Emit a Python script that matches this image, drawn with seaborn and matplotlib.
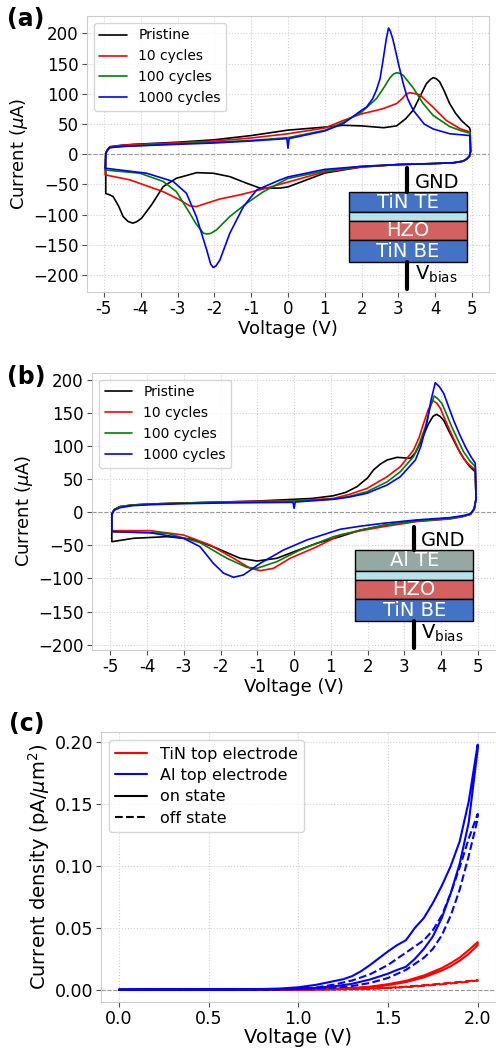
import matplotlib
matplotlib.use("Agg")
import matplotlib.pyplot as plt
import seaborn as sns
from matplotlib.patches import Rectangle
from matplotlib.lines import Line2D

# ---- panel (a): TiN top electrode, CV loops ----
a_pristine_v = [-4.95, -4.9, -4.84, -4.5, -4.2, -3.5, -3.0, -2.0, -1.0, 0.0, 1.0, 1.5, 2.0, 2.6, 2.95,
                3.2, 3.4, 3.58, 3.76, 3.87, 3.95, 4.03, 4.12, 4.25, 4.39, 4.55, 4.71, 4.85, 4.93, 4.95,
                4.96, 4.93, 4.85, 4.75, 4.5, 3.9, 3.0, 2.0, 1.0, 0.0, -0.22, -0.76, -1.12, -1.58,
                -2.03, -2.48, -3.03, -3.39, -3.71, -3.98, -4.12, -4.22, -4.35, -4.48, -4.6, -4.75,
                -4.85, -4.95, -4.95]
a_pristine_i = [2, 8, 12.6, 15, 16.5, 18.5, 20, 24, 31, 40, 45, 48, 47, 44, 47,
                59, 73, 95, 117, 124, 127, 125, 120, 104, 84, 68, 56, 48, 44, 40,
                5, -3, -8, -11.5, -14, -15.5, -17, -21, -31, -54, -56, -56, -48, -37,
                -31.4, -30.4, -39.7, -53.5, -84, -106, -112, -114, -111, -103, -86, -70,
                -67, -65, 2]

a_c10_v = [-4.95, -4.9, -4.84, -4.5, -4.2, -3.0, -2.0, -1.0, 0.0, 1.0, 1.5, 2.0, 2.4, 2.58, 2.95,
           3.1, 3.2, 3.3, 3.4, 3.58, 3.76, 3.94, 4.1, 4.3, 4.67, 4.94, 4.96, 4.93, 4.85, 4.75,
           4.5, 3.9, 3.0, 2.0, 1.0, 0.0, -0.67, -1.3, -1.85, -2.21, -2.49, -2.67, -2.94, -3.39,
           -4.29, -4.97, -4.95]
a_c10_i = [2, 8, 12, 15, 16, 19, 22, 27, 34, 43.5, 56, 67, 72.7, 75.5, 84,
           92, 99, 102, 101, 98.6, 88, 78, 68, 56, 42.4, 37, 5, -3, -8, -11.5,
           -14, -15.5, -17, -21, -29, -46, -57.4, -67, -74, -81, -86.6, -85.5, -75.5, -62,
           -42.5, -34, 2]

a_c100_v = [-4.95, -4.9, -4.84, -4.5, -3.0, -2.0, -1.0, 0.0, 1.0, 1.5, 2.0, 2.4, 2.6, 2.77, 2.87,
            2.95, 3.04, 3.13, 3.4, 3.67, 3.94, 4.39, 4.7, 4.94, 4.96, 4.93, 4.85, 4.75, 4.5, 3.9,
            3.0, 2.0, 1.0, 0.0, -0.67, -1.12, -1.58, -1.94, -2.1, -2.2, -2.3, -2.5, -2.67, -3.03,
            -3.39, -4.02, -4.97, -4.95]
a_c100_i = [2, 7, 11, 13, 17.6, 20, 23, 27.5, 39.7, 53, 70, 92, 110, 126.7, 133,
            135, 134, 130.6, 110, 84, 64.5, 46, 39, 35, 5, -3, -8, -11.5, -14, -15.5,
            -17, -20, -27.5, -40, -62, -81, -103, -125, -131, -132, -130.6, -115, -97.5, -62,
            -45, -31.4, -26, 2]

a_c1000_v = [-4.95, -4.9, -4.84, -4.5, -3.0, -2.0, -1.0, -0.03, 0.0, 0.03, 1.0, 1.5, 2.0, 2.13, 2.3,
             2.4, 2.5, 2.58, 2.67, 2.73, 2.78, 2.85, 2.9, 3.0, 3.13, 3.25, 3.4, 3.7, 3.94, 4.39,
             4.94, 4.96, 4.93, 4.85, 4.75, 4.5, 3.9, 3.0, 2.0, 1.0, 0.0, -0.22, -0.85, -1.21,
             -1.58, -1.85, -1.96, -2.03, -2.1, -2.21, -2.49, -2.76, -3.12, -3.84, -4.97, -4.95]
a_c1000_i = [2, 7, 11, 13, 16.5, 18.7, 22, 26, 10, 26, 38.6, 50.7, 73, 78, 92,
             106, 125, 155, 191, 209, 204, 190, 177, 150, 117, 92, 73, 50, 42, 34,
             31, 5, -3, -8, -11.5, -14, -15.5, -17, -20, -25, -37.5, -42.5, -59, -86.6,
             -130.6, -175, -185, -187.4, -182, -158, -103, -64.5, -45, -31.4, -23, 2]

# ---- panel (b): Al top electrode, CV loops ----
b_pristine_v = [-4.96, -4.9, -4.74, -4.4, -3.9, -3.0, -2.0, -1.0, 0.0, 0.5, 1.07, 1.4, 1.71, 2.0, 2.16,
                2.35, 2.53, 2.8, 3.16, 3.3, 3.43, 3.55, 3.66, 3.78, 3.87, 3.97, 4.07, 4.2, 4.34, 4.47,
                4.61, 4.78, 4.93, 4.95, 4.9, 4.8, 4.6, 4.25, 3.34, 2.43, 1.8, 1.25, 0.62, 0.0, -0.47,
                -1.01, -1.47, -2.1, -2.74, -3.46, -4.37, -4.96, -4.96]
b_pristine_i = [-3, 4, 8.5, 11, 12.5, 14, 15.5, 17, 19.6, 21, 25, 30, 38.7, 52, 64,
                73, 79, 83, 81.6, 90, 104, 120, 134, 145, 148, 145, 139, 124, 109, 95,
                81.6, 69, 61, 20, 5, -3, -6, -9, -12.7, -20, -27, -36.8, -46.8, -59.5, -69.5,
                -73.6, -69.5, -54.4, -40.8, -36.8, -39.3, -44.4, -3]

b_c10_v = [-4.96, -4.9, -4.74, -4.4, -3.9, -3.0, -2.0, -1.0, 0.0, 1.07, 1.5, 1.98, 2.53, 2.89, 3.25,
           3.4, 3.52, 3.65, 3.78, 3.88, 3.98, 4.1, 4.25, 4.4, 4.52, 4.7, 4.93, 4.95, 4.9, 4.8,
           4.6, 4.25, 3.34, 2.43, 1.8, 1.25, 0.62, -0.11, -0.56, -0.92, -1.2, -1.65, -2.29, -3.01,
           -3.92, -4.96, -4.96]
b_c10_i = [-3, 4, 8.5, 11, 12.5, 14, 15.5, 16.5, 17.5, 21, 27, 36, 53.8, 69, 94,
           113, 134, 155, 168.6, 165, 157, 141, 122, 104, 89, 75, 64, 20, 5, -3,
           -6.5, -10, -14, -21.7, -28, -34.3, -52, -69.5, -84.6, -88.2, -84.6, -69.5, -49.4, -34.3,
           -27.8, -27.8, -3]

b_c100_v = [-4.96, -4.9, -4.74, -4.4, -3.9, -3.0, -2.0, -1.0, 0.0, 1.07, 1.5, 1.98, 2.53, 2.89, 3.25,
            3.4, 3.57, 3.7, 3.81, 3.9, 4.02, 4.15, 4.29, 4.45, 4.61, 4.78, 4.93, 4.95, 4.9, 4.8,
            4.6, 4.25, 3.34, 2.43, 1.8, 1.07, 0.16, -0.47, -1.01, -1.29, -1.83, -2.56, -3.46,
            -4.96, -4.96]
b_c100_i = [-3, 4, 8.5, 11, 12.5, 14, 15, 16, 17, 20, 24, 31, 46, 61.3, 84,
            103, 129, 158, 175.7, 172, 164.6, 148, 129, 110, 91.5, 78, 69, 20, 5, -3,
            -6, -9.5, -13.5, -19.5, -27, -36.8, -57, -74.6, -84.6, -83.1, -69.5, -45.9, -31.7,
            -29.3, -3]

b_c1000_v = [-4.96, -4.9, -4.74, -4.4, -3.9, -3.0, -2.0, -1.0, -0.03, 0.0, 0.03, 1.07, 1.5, 1.98, 2.53,
             2.89, 3.3, 3.45, 3.61, 3.72, 3.84, 3.95, 4.07, 4.2, 4.34, 4.5, 4.66, 4.8, 4.93, 4.95,
             4.9, 4.8, 4.6, 4.25, 3.34, 2.43, 1.8, 1.25, 0.35, -0.29, -0.92, -1.38, -1.65, -1.92,
             -2.2, -2.56, -3.01, -3.92, -4.96, -4.96]
b_c1000_i = [-3, 3, 7, 10, 11.5, 13, 14, 14.6, 15, 6, 15.5, 19.6, 23, 28.7, 41.2,
             53.8, 79, 100, 134, 168, 195.8, 190, 179.8, 160, 139, 118, 99, 85, 74, 20,
             5, -2, -5, -8, -11.5, -16.6, -21, -25.7, -41.8, -57, -77, -94.7, -98.2, -92,
             -77, -52, -39.3, -30.8, -29.3, -3]

cycle_labels = ["Pristine", "10 cycles", "100 cycles", "1000 cycles"]
cycle_colors = ["black", "red", "green", "blue"]

# ---- panel (c): leakage current density ----
c_tin_on_v = [0.0, 0.4, 0.8, 1.0, 1.2, 1.3, 1.4, 1.5, 1.6, 1.7, 1.8, 1.85, 1.9, 1.95, 2.0,
              2.0, 1.95, 1.9, 1.85, 1.8, 1.7, 1.6, 1.5, 1.4, 1.3, 1.2, 1.0, 0.8, 0.4, 0.0]
c_tin_on_j = [0.0, 0.0, 0.0001, 0.0002, 0.0006, 0.0011, 0.0019, 0.0037, 0.0062, 0.010, 0.0155, 0.019, 0.0235, 0.029, 0.036,
              0.0385, 0.032, 0.026, 0.0215, 0.0175, 0.0115, 0.0072, 0.0045, 0.0025, 0.0014, 0.0008, 0.0003, 0.0001, 0.0, 0.0]
c_tin_off_v = [0.0, 0.4, 0.8, 1.0, 1.2, 1.4, 1.5, 1.6, 1.7, 1.8, 1.9, 2.0,
               2.0, 1.9, 1.8, 1.7, 1.6, 1.5, 1.4, 1.2, 1.0, 0.8, 0.4, 0.0]
c_tin_off_j = [0.0, 0.0, 0.0, 0.0001, 0.0003, 0.0008, 0.0014, 0.0022, 0.0032, 0.0044, 0.0058, 0.0074,
               0.0078, 0.0063, 0.005, 0.0036, 0.0025, 0.0016, 0.001, 0.0004, 0.0001, 0.0, 0.0, 0.0]
c_al_on_v = [0.0, 0.1, 0.2, 0.3, 0.4, 0.5, 0.6, 0.7, 0.8, 0.9, 1.0, 1.1, 1.2, 1.3, 1.4, 1.5, 1.55,
             1.6, 1.65, 1.7, 1.75, 1.8, 1.85, 1.9, 1.95, 2.0,
             2.0, 1.95, 1.9, 1.85, 1.8, 1.75, 1.7, 1.65, 1.6, 1.55, 1.5, 1.45, 1.4, 1.35, 1.3,
             1.25, 1.2, 1.15, 1.1, 1.0, 0.9, 0.8, 0.6, 0.4, 0.2, 0.0]
c_al_on_j = [0.0, 0.0002, 0.0001, 0.0002, 0.0001, 0.0002, 0.0001, 0.0002, 0.0003, 0.0004, 0.0007, 0.0015, 0.0028, 0.0048, 0.0083, 0.013, 0.016,
             0.0185, 0.025, 0.033, 0.043, 0.058, 0.078, 0.102, 0.135, 0.194,
             0.198, 0.152, 0.120, 0.100, 0.084, 0.070, 0.058, 0.050, 0.040, 0.036, 0.031, 0.0255, 0.020, 0.015, 0.011,
             0.0085, 0.007, 0.0055, 0.004, 0.002, 0.001, 0.0006, 0.0004, 0.0003, 0.0003, 0.0]
c_al_off_v = [0.0, 0.4, 0.8, 1.0, 1.2, 1.3, 1.4, 1.5, 1.6, 1.7, 1.75, 1.8, 1.85, 1.9, 1.95, 2.0,
              2.0, 1.95, 1.9, 1.85, 1.8, 1.75, 1.7, 1.6, 1.5, 1.4, 1.3, 1.2, 1.1, 1.0, 0.8, 0.4, 0.0]
c_al_off_j = [0.0, 0.0001, 0.0002, 0.0005, 0.0016, 0.003, 0.0055, 0.0095, 0.016, 0.0258, 0.033, 0.044, 0.060, 0.081, 0.108, 0.138,
              0.142, 0.122, 0.099, 0.078, 0.060, 0.048, 0.040, 0.030, 0.020, 0.0125, 0.0075, 0.0042, 0.0018, 0.0008, 0.0002, 0.0001, 0.0]

sns.set_style("whitegrid", {"grid.linestyle": ":", "grid.color": "0.82",
                            "axes.edgecolor": "0.8", "xtick.bottom": True, "ytick.left": True})
plt.rcParams["font.family"] = ["DejaVu Sans"]
plt.rcParams["text.color"] = "black"
plt.rcParams["axes.labelcolor"] = "black"
plt.rcParams["xtick.color"] = "black"
plt.rcParams["ytick.color"] = "black"

fig = plt.figure(figsize=(4.96, 10.5), dpi=100)
ax_a = fig.add_axes([0.1754, 0.7219, 0.8105, 0.2629])
ax_b = fig.add_axes([0.1855, 0.381, 0.8135, 0.2641])
ax_c = fig.add_axes([0.2036, 0.0457, 0.7956, 0.2569])


def draw_stack(ax, top_label, top_color, ys):
    # small device sketch in the lower right corner
    x0, x1, xc = 0.652, 0.945, 0.797
    cols = [top_color, "#b8e2ea", "#d46060", "#4472c4"]
    labs = [top_label, "", "HZO", "TiN BE"]
    for k in range(4):
        ax.add_patch(Rectangle((x0, ys[k + 2]), x1 - x0, ys[k + 1] - ys[k + 2], transform=ax.transAxes,
                               facecolor=cols[k], edgecolor="black", lw=1, zorder=6))
        if labs[k]:
            ax.text((x0 + x1) / 2, (ys[k + 1] + ys[k + 2]) / 2, labs[k], transform=ax.transAxes,
                    ha="center", va="center", color="white", fontsize=14, zorder=7)
    ax.plot([xc, xc], [ys[1], ys[0]], transform=ax.transAxes, color="black", lw=3, zorder=6)
    ax.plot([xc, xc], [ys[6], ys[5]], transform=ax.transAxes, color="black", lw=3, zorder=6)
    ax.text(0.816, (ys[0] + ys[1]) / 2 - 0.01, "GND", transform=ax.transAxes, fontsize=14,
            va="center", zorder=7)
    ax.text(0.816, ys[6] + 0.033, r"V$_{\mathrm{bias}}$", transform=ax.transAxes, fontsize=14,
            va="baseline", zorder=7)


def cv_panel(ax, curves, ylim, xlim):
    ax.axhline(0, color="0.6", ls="--", lw=0.8, zorder=1)
    for (v, i), lab, col in zip(curves, cycle_labels, cycle_colors):
        sns.lineplot(x=v, y=i, sort=False, estimator=None, color=col, lw=1.2, ax=ax, label=lab)
    ax.set_xlim(*xlim)
    ax.set_ylim(*ylim)
    ax.set_xticks(range(-5, 6))
    ax.set_xticklabels([str(t) for t in range(-5, 6)])
    ax.set_yticks(range(-200, 201, 50))
    ax.tick_params(labelsize=12, length=3.5, width=0.8, color="0.3", pad=2.5)
    ax.set_xlabel("Voltage (V)", fontsize=13, labelpad=1)
    ax.set_ylabel(r"Current ($\mu$A)", fontsize=13, labelpad=2)
    ax.legend(loc="upper left", fontsize=10, framealpha=0.8)


cv_panel(ax_a, [(a_pristine_v, a_pristine_i), (a_c10_v, a_c10_i), (a_c100_v, a_c100_i),
                (a_c1000_v, a_c1000_i)], (-228, 229), (-5.46, 5.46))
draw_stack(ax_a, "TiN TE", "#4472c4", [0.449, 0.362, 0.290, 0.257, 0.188, 0.109, 0.011])

cv_panel(ax_b, [(b_pristine_v, b_pristine_i), (b_c10_v, b_c10_i), (b_c100_v, b_c100_i),
                (b_c1000_v, b_c1000_i)], (-208, 211), (-5.5, 5.48))
draw_stack(ax_b, "Al TE", "#95a8a2", [0.445, 0.361, 0.286, 0.252, 0.183, 0.105, 0.006])

# panel (c)
ax_c.axhline(0, color="0.6", ls="--", lw=0.8, zorder=1)
sns.lineplot(x=c_tin_on_v, y=c_tin_on_j, sort=False, estimator=None, color="red", lw=1.5, ax=ax_c)
sns.lineplot(x=c_tin_off_v, y=c_tin_off_j, sort=False, estimator=None, color="red", lw=1.5,
             linestyle="--", ax=ax_c)
sns.lineplot(x=c_al_on_v, y=c_al_on_j, sort=False, estimator=None, color="blue", lw=1.5, ax=ax_c)
sns.lineplot(x=c_al_off_v, y=c_al_off_j, sort=False, estimator=None, color="blue", lw=1.5,
             linestyle="--", ax=ax_c)
ax_c.set_xlim(-0.1, 2.1)
ax_c.set_ylim(-0.0099, 0.208)
ax_c.set_xticks([0.0, 0.5, 1.0, 1.5, 2.0])
ax_c.set_yticks([0.0, 0.05, 0.10, 0.15, 0.20])
ax_c.set_yticklabels(["0.00", "0.05", "0.10", "0.15", "0.20"])
ax_c.tick_params(labelsize=12.5, length=3.5, width=0.8, color="0.3", pad=2)
ax_c.set_xlabel("Voltage (V)", fontsize=14, labelpad=0)
ax_c.set_ylabel(r"Current density (pA/$\mu$m$^2$)", fontsize=14, labelpad=2)
handles = [Line2D([], [], color="red", lw=1.5), Line2D([], [], color="blue", lw=1.5),
           Line2D([], [], color="black", lw=1.5), Line2D([], [], color="black", lw=1.5, ls="--")]
ax_c.legend(handles, ["TiN top electrode", "Al top electrode", "on state", "off state"],
            loc="upper left", fontsize=11.5, labelspacing=0.4, framealpha=0.8)

fig.text(0.015, 0.9937, "(a)", fontsize=17, fontweight="bold", va="top")
fig.text(0.015, 0.6524, "(b)", fontsize=17, fontweight="bold", va="top")
fig.text(0.018, 0.3219, "(c)", fontsize=17, fontweight="bold", va="top")

fig.savefig("out.png", dpi=100)
